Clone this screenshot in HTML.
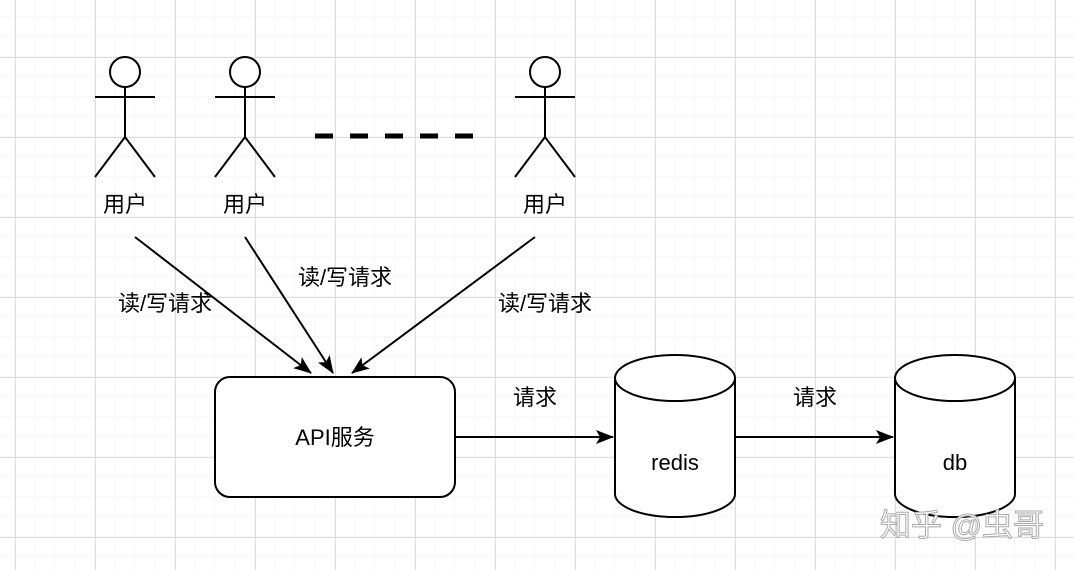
<!DOCTYPE html>
<html><head><meta charset="utf-8"><style>
body{margin:0;background:#fff}
svg{display:block}
text{font-family:"Liberation Sans","Noto Sans CJK SC",sans-serif;fill:#000}
</style></head><body>
<svg width="1074" height="570" viewBox="0 0 1074 570" xmlns="http://www.w3.org/2000/svg">
<defs>
<pattern id="minor" x="15" y="17" width="20" height="20" patternUnits="userSpaceOnUse"><path d="M20 0V20M0 20H20" fill="none" stroke="#f0f0f0" stroke-width="1"/></pattern>
<pattern id="major" x="15" y="-23" width="80" height="80" patternUnits="userSpaceOnUse"><path d="M0.5 0V80M0 0.5H80" fill="none" stroke="#dcdcdc" stroke-width="1"/></pattern>
<marker id="a" markerWidth="18" markerHeight="14" refX="17" refY="7" orient="auto" markerUnits="userSpaceOnUse"><path d="M0 0L18 7L0 14L4 7Z" fill="#000"/></marker>
</defs>
<rect width="1074" height="570" fill="url(#minor)"/>
<rect width="1074" height="570" fill="url(#major)"/>
<g stroke="#000" stroke-width="2" fill="none">
<g id="p"><circle cx="125" cy="72" r="15" fill="#fff"/><path d="M125 87V137M95 97H155M95 177L125 137L155 177"/></g>
<use href="#p" x="120"/><use href="#p" x="420"/>
<path d="M315 136H475" stroke-width="5" stroke-dasharray="18,17"/>
<path d="M135 237L311 373" marker-end="url(#a)"/>
<path d="M245 237L333 373" marker-end="url(#a)"/>
<path d="M535 237L352 373" marker-end="url(#a)"/>
<rect x="215" y="377" width="240" height="120" rx="15" fill="#fff"/>
<path d="M455 437H613" marker-end="url(#a)"/>
<path d="M735 437H893" marker-end="url(#a)"/>
<path d="M615 378V494A60 23 0 0 0 735 494V378A60 23 0 0 0 615 378Z" fill="#fff"/>
<path d="M615 378A60 23 0 0 0 735 378"/>
<path d="M895 378V494A60 23 0 0 0 1015 494V378A60 23 0 0 0 895 378Z" fill="#fff"/>
<path d="M895 378A60 23 0 0 0 1015 378"/>
</g>
<g font-size="22" text-anchor="middle">
<text x="125" y="212">用户</text><text x="245" y="212">用户</text><text x="545" y="212">用户</text>
<text x="165" y="311">读/写请求</text><text x="345" y="285">读/写请求</text><text x="545" y="311">读/写请求</text>
<text x="535" y="405">请求</text><text x="815" y="405">请求</text>
<text x="335" y="445">API服务</text>
<text x="675" y="470">redis</text><text x="955" y="470">db</text>
</g>
<text x="962" y="536" font-size="31" text-anchor="middle" style="fill:#fff;stroke:#aaa;stroke-width:1">知乎 @虫哥</text>
</svg>
</body></html>
